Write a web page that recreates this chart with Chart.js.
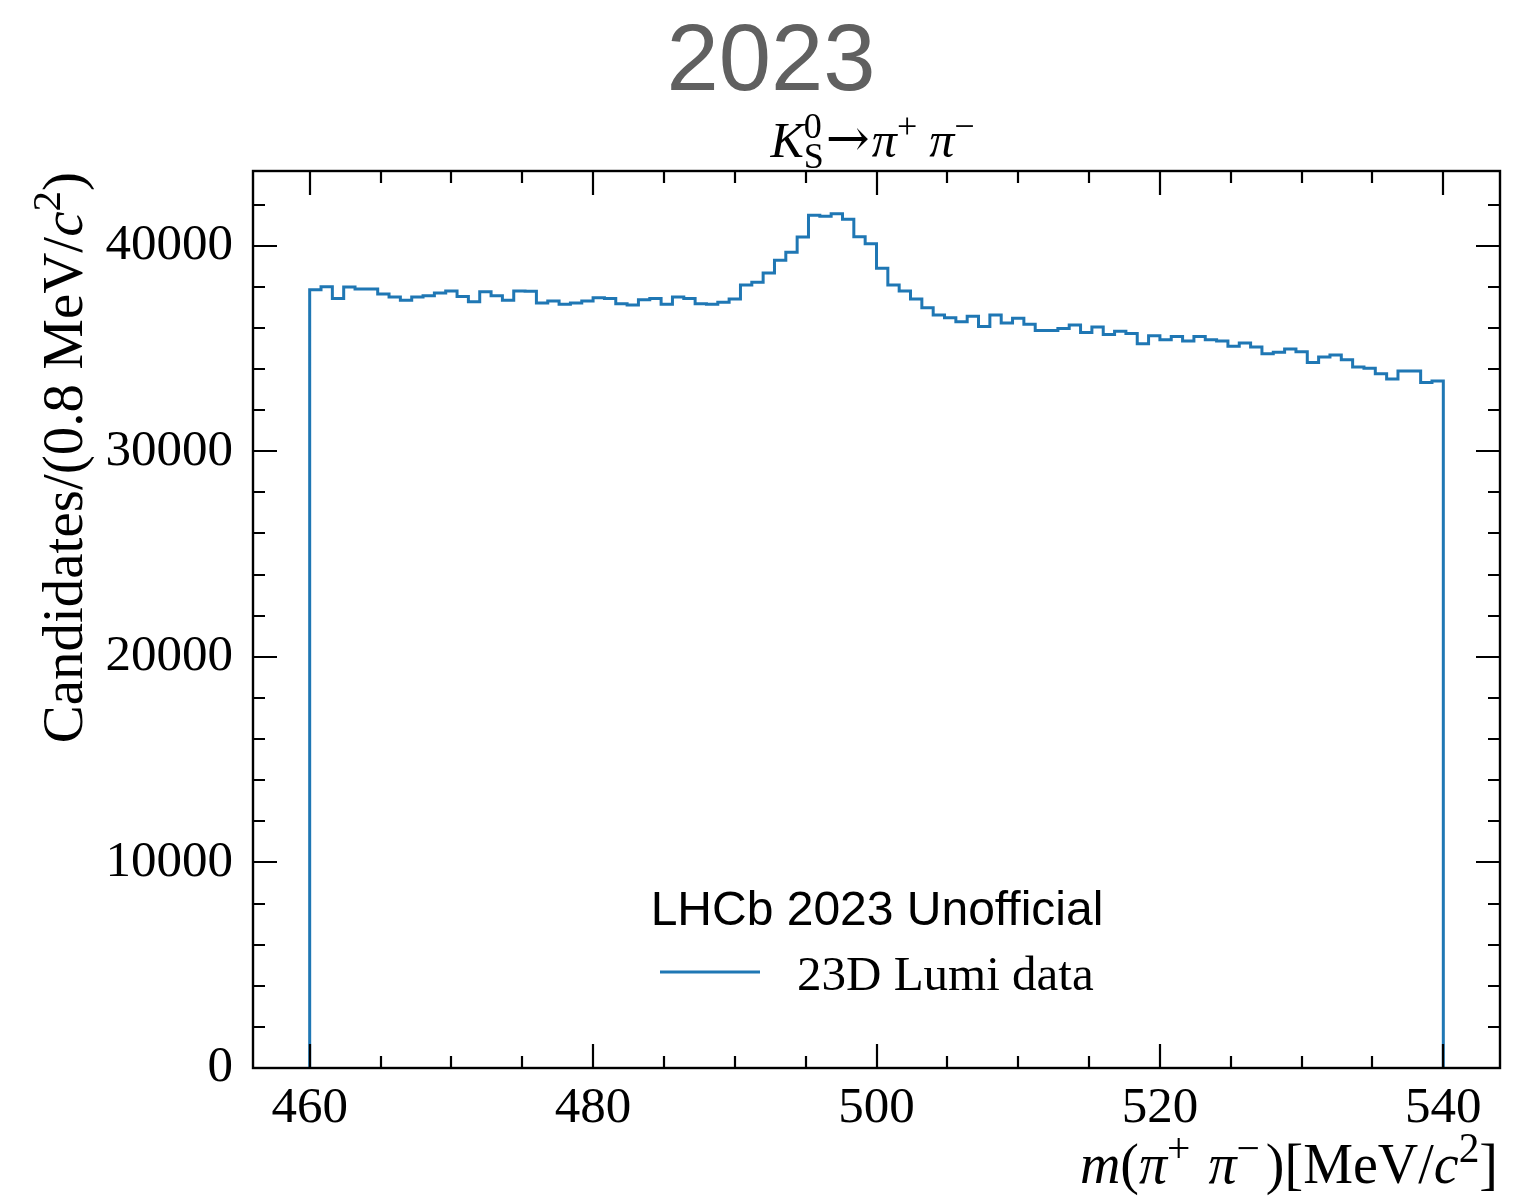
<!DOCTYPE html>
<html>
<head>
<meta charset="utf-8">
<script src="https://cdn.jsdelivr.net/npm/chart.js@4.4.1/dist/chart.umd.min.js"></script>
<style>
  html, body { margin: 0; padding: 0; background: #ffffff; }
  #wrap { width: 1516px; height: 1196px; position: relative; }
  canvas { display: block; }
</style>
</head>
<body>
<div id="wrap"><canvas id="c" width="1516" height="1196"></canvas></div>
<script>
// ---------------- data ----------------
const binLow = 460;          // MeV/c^2, first bin low edge
const binWidth = 0.8;        // MeV/c^2
const counts = [
  37860, 38000, 37430, 37990, 37890, 37890, 37650, 37500, 37340, 37500,
  37565, 37700, 37795, 37530, 37275, 37760, 37565, 37340, 37795, 37780,
  37210, 37310, 37145, 37210, 37310, 37470, 37430, 37175, 37110, 37370,
  37430, 37145, 37500, 37430, 37175, 37145, 37240, 37400, 38085, 38215,
  38670, 39285, 39675, 40420, 41475, 41425, 41555, 41280, 40436, 40095,
  38896, 38085, 37795, 37405, 36982, 36625, 36495, 36300, 36560, 36072,
  36625, 36237, 36462, 36170, 35878, 35878, 35975, 36140, 35780, 36040,
  35683, 35830, 35730, 35230, 35620, 35425, 35585, 35360, 35585, 35425,
  35360, 35100, 35262, 35068, 34743, 34808, 34970, 34840, 34320, 34580,
  34680, 34450, 34097, 34030, 33770, 33510, 33900, 33900, 33340, 33410
];
const xTicks = [460, 480, 500, 520, 540];
const xMinorTicks = [465, 470, 475, 485, 490, 495, 505, 510, 515, 525, 530, 535];
const yTicks = [0, 10000, 20000, 30000, 40000];
const yMinorTicks = [2000, 4000, 6000, 8000, 12000, 14000, 16000, 18000, 22000, 24000, 26000, 28000, 32000, 34000, 36000, 38000, 42000];
const xRange = [456, 544];
const yRange = [0, 43630];
const seriesLabel = '23D Lumi data';
const legendTitle = 'LHCb 2023 Unofficial';
const figTitle = '2023';

// histogram outline points (bin edges -> counts)
const pts = [{x: binLow, y: 0}];
counts.forEach((c, i) => pts.push({x: binLow + binWidth * i, y: c}));
pts.push({x: binLow + binWidth * counts.length, y: counts[counts.length - 1]});
pts.push({x: binLow + binWidth * counts.length, y: 0});

const SERIF = '"Liberation Serif", "Times New Roman", serif';
const SANS = '"Liberation Sans", Arial, Helvetica, sans-serif';
const LINE = '#1f77b4';

// rich text helper
function drawRich(ctx, segs, x, y, baseSize, align, supScale) {
  const ss = supScale || 0.7;
  const items = segs.map(s => {
    const sz = (s.sup || s.sub) ? baseSize * ss : baseSize * (s.scale || 1);
    const font = (s.italic ? 'italic ' : '') + sz + 'px ' + (s.family || SERIF);
    ctx.font = font;
    const w = ctx.measureText(s.t).width;
    return {s, font, w, dy: s.sup ? -baseSize * 0.38 : (s.sub ? baseSize * 0.22 : (s.dy || 0)), stack: s.stack, gap: s.gap || 0, after: s.after || 0};
  });
  let total = 0, prevW = 0;
  items.forEach(it => {
    if (it.stack) { total += Math.max(0, it.w - prevW) + it.after; prevW = Math.max(prevW, it.w); }
    else { total += it.gap + it.w + it.after; prevW = it.w; }
  });
  let cx = align === 'right' ? x - total : (align === 'center' ? x - total / 2 : x);
  let lastX = cx, lastW = 0;
  items.forEach(it => {
    ctx.font = it.font;
    ctx.textAlign = 'left';
    ctx.textBaseline = 'alphabetic';
    if (it.stack) {
      ctx.fillText(it.s.t, lastX, y + it.dy);
      const ext = Math.max(lastW, it.w);
      cx = lastX + ext + it.after;
      lastW = ext;
    } else {
      cx += it.gap;
      ctx.fillText(it.s.t, cx, y + it.dy);
      lastX = cx; lastW = it.w;
      cx += it.w + it.after;
    }
  });
}

const decor = {
  id: 'decor',
  afterDraw(chart) {
    const ctx = chart.ctx;
    const a = chart.chartArea;
    const xs = chart.scales.x, ys = chart.scales.y;
    ctx.save();
    // frame
    ctx.strokeStyle = '#000';
    ctx.lineWidth = 2.4;
    ctx.strokeRect(a.left, a.top, a.right - a.left, a.bottom - a.top);
    // ticks (inward, all sides)
    ctx.lineWidth = 2.2;
    ctx.beginPath();
    const tx = (v, len) => {
      const p = Math.round(xs.getPixelForValue(v));
      ctx.moveTo(p, a.bottom); ctx.lineTo(p, a.bottom - len);
      ctx.moveTo(p, a.top); ctx.lineTo(p, a.top + len);
    };
    const ty = (v, len) => {
      const p = Math.round(ys.getPixelForValue(v));
      ctx.moveTo(a.left, p); ctx.lineTo(a.left + len, p);
      ctx.moveTo(a.right, p); ctx.lineTo(a.right - len, p);
    };
    xTicks.forEach(v => tx(v, 24));
    xMinorTicks.forEach(v => tx(v, 12));
    yTicks.forEach(v => ty(v, 24));
    yMinorTicks.forEach(v => ty(v, 12));
    ctx.stroke();

    // figure title
    ctx.font = '94px ' + SANS;
    ctx.fillStyle = '#606060';
    ctx.textAlign = 'center';
    ctx.textBaseline = 'alphabetic';
    ctx.fillText(figTitle, 771, 90);

    // axes title (decay)
    ctx.fillStyle = '#000';
    const midX = (a.left + a.right) / 2;
    drawRich(ctx, [
      {t: 'K', italic: true},
      {t: '0', sup: true},
      {t: 'S', sub: true, stack: true, after: 2},
      {t: '\u2192', family: '"DejaVu Serif", serif', scale: 1.05, dy: -1, after: 2},
      {t: '\u03c0', italic: true},
      {t: '+', sup: true, after: 6},
      {t: '\u03c0', italic: true, gap: 6},
      {t: '\u2212', sup: true}
    ], midX - 4, 157, 50, 'center', 0.72);

    // x axis title
    drawRich(ctx, [
      {t: 'm', italic: true},
      {t: '('},
      {t: '\u03c0', italic: true},
      {t: '+', sup: true, after: 8},
      {t: '\u03c0', italic: true, gap: 10},
      {t: '\u2212', sup: true, after: 6},
      {t: ')[MeV/'},
      {t: 'c', italic: true},
      {t: '2', sup: true},
      {t: ']'}
    ], a.right - 2, 1183, 56, 'right', 0.74);

    // y axis title (rotated)
    ctx.save();
    ctx.translate(82, a.top + 1);
    ctx.rotate(-Math.PI / 2);
    drawRich(ctx, [
      {t: 'Candidates/(0.8 MeV/'},
      {t: 'c', italic: true},
      {t: '2', sup: true},
      {t: ')'}
    ], 0, 0, 57, 'right', 0.72);
    ctx.restore();

    // legend
    ctx.font = '48px ' + SANS;
    ctx.textAlign = 'center';
    ctx.fillStyle = '#000';
    ctx.fillText(legendTitle, 877, 925);
    ctx.strokeStyle = LINE;
    ctx.lineWidth = 3;
    ctx.beginPath();
    ctx.moveTo(660, 972); ctx.lineTo(760, 972);
    ctx.stroke();
    ctx.font = '49px ' + SERIF;
    ctx.textAlign = 'left';
    ctx.fillText(seriesLabel, 797, 990);
    ctx.restore();
  }
};

new Chart(document.getElementById('c'), {
  type: 'line',
  data: {
    datasets: [{
      label: seriesLabel,
      data: pts,
      stepped: 'before',
      borderColor: LINE,
      borderWidth: 3,
      pointRadius: 0,
      fill: false,
      tension: 0
    }]
  },
  options: {
    responsive: false,
    animation: false,
    events: [],
    layout: { padding: { top: 171, right: 16, left: 0, bottom: 0 } },
    plugins: { legend: { display: false }, tooltip: { enabled: false }, title: { display: false } },
    scales: {
      x: {
        type: 'linear',
        min: xRange[0], max: xRange[1],
        grid: { display: false, drawTicks: false },
        border: { display: false },
        afterBuildTicks: s => { s.ticks = xTicks.map(v => ({value: v})); },
        afterFit: s => { s.height = 128; },
        ticks: {
          color: '#000',
          font: { family: SERIF, size: 51 },
          padding: 10,
          maxRotation: 0,
          callback: v => String(v)
        }
      },
      y: {
        type: 'linear',
        min: yRange[0], max: yRange[1],
        grid: { display: false, drawTicks: false },
        border: { display: false },
        afterBuildTicks: s => { s.ticks = yTicks.map(v => ({value: v})); },
        afterFit: s => { s.width = 253; },
        ticks: {
          color: '#000',
          font: { family: SERIF, size: 51 },
          padding: 20,
          callback: v => String(v)
        }
      }
    }
  },
  plugins: [decor]
});
</script>
</body>
</html>
